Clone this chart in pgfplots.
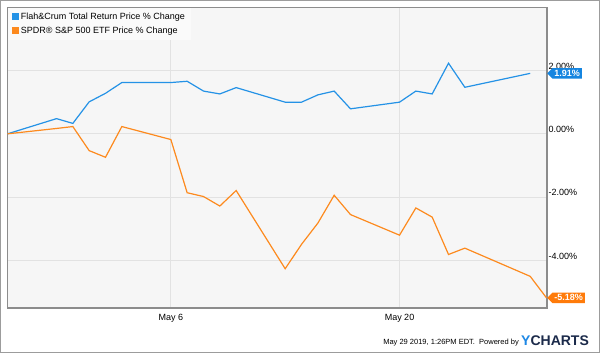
\documentclass[border=0pt]{standalone}
\usepackage{pgfplots}
\pgfplotsset{compat=1.18}
\usepackage{fontspec}
\setmainfont{Liberation Sans}
\usetikzlibrary{shapes.symbols}
\definecolor{plotbg}{HTML}{F6F6F6}
\definecolor{legbg}{HTML}{FAFAFA}
\definecolor{gridc}{HTML}{E2E2E2}
\definecolor{axisc}{HTML}{8C8C8C}
\definecolor{framec}{HTML}{9C9C9C}
\definecolor{lblue}{HTML}{2492E6}
\definecolor{lorange}{HTML}{FD8A1E}
\definecolor{tblue}{HTML}{1585E0}
\definecolor{torange}{HTML}{FF7B0A}
\definecolor{ycblue}{HTML}{1E88E5}
\definecolor{ycnavy}{HTML}{1B2A4A}
\pgfplotstableread{
x y
-10 0
-7 0.48
-6 0.33
-5 1.01
-4 1.28
-3 1.62
0 1.62
1 1.66
2 1.35
3 1.26
4 1.46
7 1.00
8 1.00
9 1.23
10 1.35
11 0.79
14 1.00
15 1.35
16 1.26
17 2.23
18 1.47
22 1.91
}\flah
\pgfplotstableread{
x y
-10 0
-7 0.17
-6 0.23
-5 -0.53
-4 -0.74
-3 0.23
0 -0.18
1 -1.86
2 -1.98
3 -2.28
4 -1.79
7 -4.26
8 -3.49
9 -2.82
10 -1.94
11 -2.55
14 -3.20
15 -2.34
16 -2.63
17 -3.81
18 -3.61
22 -4.50
23 -5.18
}\spdr
\begin{document}
\begin{tikzpicture}[x=1pt,y=1pt]
\useasboundingbox (0,0) rectangle (600,353);
\fill[white] (0,0) rectangle (600,353);
\draw[framec, line width=1.2pt] (0.6,0.6) rectangle (599.4,352.4);
\begin{axis}[
  at={(7.5pt,45pt)}, anchor=south west,
  scale only axis, width=539.5pt, height=300.5pt,
  xmin=-10, xmax=23.03, ymin=-5.50, ymax=3.99,
  axis background/.style={fill=plotbg},
  axis line style={draw=axisc, line width=1.2pt},
  xtick={0,14}, xticklabels={May 6, May 20},
  ytick={-4,-2,0,2}, yticklabels={-4.00\%,-2.00\%,0.00\%,2.00\%},
  yticklabel pos=right,
  yticklabel style={anchor=west, xshift=-2pt, yshift=4.5pt},
  xticklabel style={yshift=-3pt},
  ticklabel style={font=\fontsize{9}{10}\selectfont},
  major tick length=0pt,
  grid=major, major grid style={draw=gridc, line width=0.8pt},
  legend style={at={(0,1)}, anchor=north west, fill=legbg, draw=none,
    inner xsep=4pt, inner ysep=3pt, font=\fontsize{9}{10}\selectfont,
    row sep=2pt, cells={anchor=west}},
  legend image code/.code={\fill (0pt,-3pt) rectangle (6pt,3pt);},
  clip=false,
]
\addplot[color=lblue, line width=1.2pt, mark=none] table[x=x,y=y] {\flah};
\addlegendentry{Flah\&Crum Total Return Price \% Change}
\addplot[color=lorange, line width=1.2pt, mark=none] table[x=x,y=y] {\spdr};
\addlegendentry{SPDR® S\&P 500 ETF Price \% Change}
\node[signal, signal to=west, fill=tblue, text=white, font=\bfseries\fontsize{9}{9}\selectfont, inner xsep=2pt, inner ysep=2pt, anchor=west] at (axis cs:23.03,1.91) {1.91\%};
\node[signal, signal to=west, fill=torange, text=white, font=\bfseries\fontsize{9}{9}\selectfont, inner xsep=2pt, inner ysep=2pt, anchor=west] at (axis cs:23.03,-5.18) {-5.18\%};
\end{axis}
\node[anchor=east, inner sep=0pt, font=\fontsize{7.5}{8}\selectfont] at (519,10) {May 29 2019, 1:26PM EDT.\ \ Powered by};
\node[anchor=base west, inner sep=0pt, font=\bfseries\fontsize{14}{14}\selectfont] at (521,7) {\textcolor{ycblue}{Y}\textcolor{ycnavy}{CHARTS}};
\end{tikzpicture}
\end{document}
